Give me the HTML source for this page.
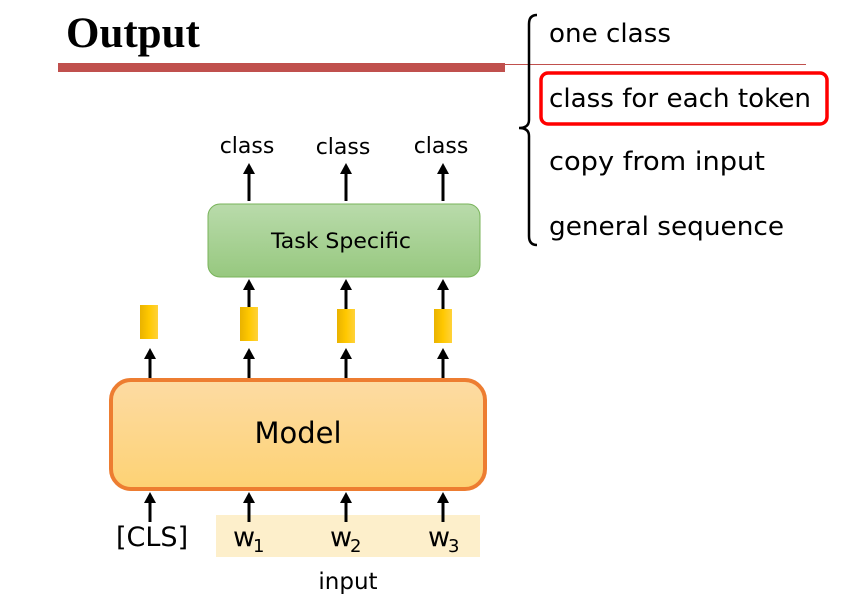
<!DOCTYPE html>
<html><head><meta charset="utf-8"><style>
body{margin:0;background:#fff;}
svg{display:block;}
text{font-family:"DejaVu Sans","Liberation Sans",sans-serif;}
</style></head><body>
<svg width="860" height="597" viewBox="0 0 860 597" xmlns="http://www.w3.org/2000/svg">
<defs>
<linearGradient id="g" x1="0" y1="0" x2="0" y2="1"><stop offset="0" stop-color="#b9dbab"/><stop offset="1" stop-color="#97c87f"/></linearGradient>
<linearGradient id="o" x1="0" y1="0" x2="0" y2="1"><stop offset="0" stop-color="#fddba3"/><stop offset="1" stop-color="#fdd274"/></linearGradient>
<linearGradient id="y" x1="0" y1="0" x2="1" y2="0"><stop offset="0" stop-color="#e9b200"/><stop offset="0.5" stop-color="#ffc800"/><stop offset="1" stop-color="#ffd23a"/></linearGradient>
</defs>
<text x="66" y="47" font-weight="bold" font-size="43" style="font-family:'Liberation Serif',serif">Output</text>
<rect x="58" y="63" width="447" height="9" fill="#c0504d"/>
<line x1="505" y1="64.5" x2="806" y2="64.5" stroke="#c0504d" stroke-width="1"/>
<path d="M537,15 Q529,15 529,24 L529,120 Q529,128 519,128 Q529,128 529,136 L529,236 Q529,245 537,245" fill="none" stroke="#000" stroke-width="2.5"/>
<g font-size="26">
<text x="549" y="42" textLength="122" lengthAdjust="spacingAndGlyphs">one class</text>
<text x="549" y="107" textLength="262" lengthAdjust="spacingAndGlyphs">class for each token</text>
<text x="549" y="170" textLength="216" lengthAdjust="spacingAndGlyphs">copy from input</text>
<text x="549" y="235" textLength="235" lengthAdjust="spacingAndGlyphs">general sequence</text>
</g>
<rect x="541" y="73" width="286" height="51" rx="7" fill="none" stroke="#f00" stroke-width="3.5"/>
<g font-size="22" text-anchor="middle">
<text x="247" y="153">class</text><text x="343" y="154">class</text><text x="441" y="153">class</text>
</g>
<g stroke="#000" stroke-width="3" fill="#000">
<line x1="249" y1="201" x2="249" y2="172"/><path d="M243,174 L249,163 L255,174Z" stroke="none"/>
<line x1="346" y1="201" x2="346" y2="172"/><path d="M340,174 L346,163 L352,174Z" stroke="none"/>
<line x1="443" y1="201" x2="443" y2="172"/><path d="M437,174 L443,163 L449,174Z" stroke="none"/>
</g>
<rect x="208" y="204" width="272" height="73" rx="12" fill="url(#g)" stroke="#78b35a" stroke-width="1"/>
<text x="341" y="248" font-size="21" text-anchor="middle" textLength="140" lengthAdjust="spacingAndGlyphs">Task Specific</text>
<g stroke="#000" stroke-width="3" fill="#000">
<line x1="249" y1="309" x2="249" y2="290"/><path d="M243,290 L249,279 L255,290Z" stroke="none"/>
<line x1="346" y1="309" x2="346" y2="290"/><path d="M340,290 L346,279 L352,290Z" stroke="none"/>
<line x1="443" y1="309" x2="443" y2="290"/><path d="M437,290 L443,279 L449,290Z" stroke="none"/>
</g>
<rect x="140" y="305" width="18" height="34" fill="url(#y)"/>
<rect x="240" y="307" width="18" height="34" fill="url(#y)"/>
<rect x="337" y="309" width="18" height="34" fill="url(#y)"/>
<rect x="434" y="309" width="18" height="34" fill="url(#y)"/>
<g stroke="#000" stroke-width="3" fill="#000">
<line x1="150" y1="379" x2="150" y2="359"/><path d="M144,359 L150,348 L156,359Z" stroke="none"/>
<line x1="249" y1="379" x2="249" y2="359"/><path d="M243,359 L249,348 L255,359Z" stroke="none"/>
<line x1="346" y1="379" x2="346" y2="359"/><path d="M340,359 L346,348 L352,359Z" stroke="none"/>
<line x1="443" y1="379" x2="443" y2="359"/><path d="M437,359 L443,348 L449,359Z" stroke="none"/>
</g>
<rect x="111" y="380" width="374" height="109" rx="20" fill="url(#o)" stroke="#ed7d31" stroke-width="4"/>
<text x="298" y="443" font-size="29" text-anchor="middle">Model</text>
<rect x="216" y="515" width="264" height="42" fill="#fdefcb"/>
<g stroke="#000" stroke-width="3" fill="#000">
<line x1="150" y1="522" x2="150" y2="502"/><path d="M144,503 L150,492 L156,503Z" stroke="none"/>
<line x1="249" y1="522" x2="249" y2="502"/><path d="M243,503 L249,492 L255,503Z" stroke="none"/>
<line x1="346" y1="522" x2="346" y2="502"/><path d="M340,503 L346,492 L352,503Z" stroke="none"/>
<line x1="443" y1="522" x2="443" y2="502"/><path d="M437,503 L443,492 L449,503Z" stroke="none"/>
</g>
<g font-size="27">
<text x="116" y="546">[CLS]</text>
<text x="233" y="546">w</text><text x="253" y="552" font-size="18">1</text>
<text x="330" y="546">w</text><text x="350" y="552" font-size="18">2</text>
<text x="428" y="546">w</text><text x="448" y="552" font-size="18">3</text>
</g>
<text x="348" y="589" font-size="23" text-anchor="middle">input</text>
</svg>
</body></html>
